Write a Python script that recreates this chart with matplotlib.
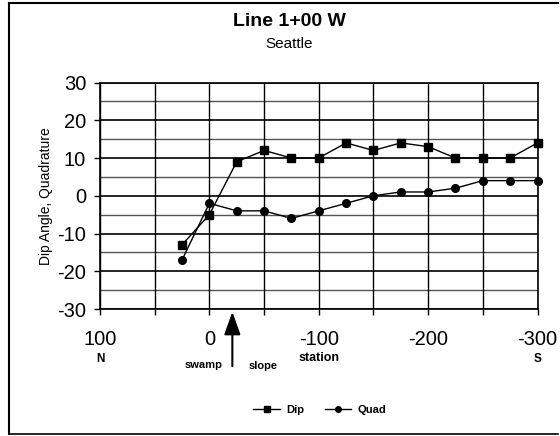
import matplotlib.pyplot as plt
from matplotlib.transforms import blended_transform_factory
from matplotlib.lines import Line2D

plt.rcParams['font.family'] = ['Liberation Sans', 'DejaVu Sans']

# station positions (N positive, S negative)
station = [25, 0, -25, -50, -75, -100, -125, -150, -175, -200, -225, -250, -275, -300]
dip = [-13, -5, 9, 12, 10, 10, 14, 12, 14, 13, 10, 10, 10, 14]
quad = [-17, -2, -4, -4, -6, -4, -2, 0, 1, 1, 2, 4, 4, 4]

xticks = [100, 0, -100, -200, -300]
yticks = [30, 20, 10, 0, -10, -20, -30]

W, H = 560, 436
fig = plt.figure(figsize=(5.6, 4.36), dpi=100)
ax = fig.add_axes([100 / W, 1 - 309 / H, 437.5 / W, 226.5 / H])

# grid
for y in range(-30, 31, 5):
    if y % 10 == 0:
        ax.axhline(y, color='black', lw=1.2, zorder=1)
    else:
        ax.axhline(y, color='#555555', lw=1.0, zorder=1)
for x in range(100, -301, -50):
    ax.axvline(x, color='black', lw=1.0, zorder=1)

ax.plot(station, dip, color='black', lw=1, marker='s', ms=6, zorder=3, clip_on=False, label='Dip')
ax.plot(station, quad, color='black', lw=1, marker='o', ms=5.5, zorder=3, clip_on=False, label='Quad')

ax.set_xlim(100, -300)
ax.set_ylim(-30, 30)
ax.set_xticks(range(100, -301, -50), minor=True)
ax.set_xticks(xticks)
ax.set_xticklabels([str(v) for v in xticks])
ax.set_yticks(yticks)
ax.set_yticklabels([str(v) for v in yticks])
ax.tick_params(axis='x', which='both', direction='out', length=4, width=1, labelsize=14.5, pad=11)
ax.tick_params(axis='y', direction='out', length=4, width=1, labelsize=14.5, pad=6)
for s in ax.spines.values():
    s.set_linewidth(1.2)

ax.set_ylabel('Dip Angle, Quadrature', fontsize=10, labelpad=3)

# labels under the axis
tr = blended_transform_factory(ax.transData, fig.transFigure)
ax.text(100, 1 - 359 / H, 'N', transform=tr, ha='center', va='center', fontsize=8.5, fontweight='bold')
ax.text(-300, 1 - 359 / H, 'S', transform=tr, ha='center', va='center', fontsize=8.5, fontweight='bold')
ax.text(-100, 1 - 358 / H, 'station', transform=tr, ha='center', va='center', fontsize=9, fontweight='bold')
ax.text(5, 1 - 365 / H, 'swamp', transform=tr, ha='center', va='center', fontsize=8, fontweight='bold')
ax.text(-49, 1 - 366 / H, 'slope', transform=tr, ha='center', va='center', fontsize=8, fontweight='bold')

ax.annotate('', xy=(-21, -30), xycoords='data',
            xytext=(-21, 1 - 369 / H), textcoords=tr,
            arrowprops=dict(arrowstyle='-|>,head_length=1.4,head_width=0.5', color='black', lw=1.5),
            annotation_clip=False)

# titles
fig.text(289 / W, 1 - 21 / H, 'Line 1+00 W', ha='center', va='center', fontsize=14, fontweight='bold')
fig.text(289 / W, 1 - 44 / H, 'Seattle', ha='center', va='center', fontsize=11)

handles = [Line2D([], [], color='black', lw=1, marker='s', ms=4),
           Line2D([], [], color='black', lw=1, marker='o', ms=4)]
leg = fig.legend(handles, ['Dip', 'Quad'], loc='center', bbox_to_anchor=(320 / W, 1 - 410 / H),
                 ncol=2, frameon=False, prop={'size': 8, 'weight': 'bold'},
                 handlelength=2.4, columnspacing=1.8, handletextpad=0.6)

# outer frame
fig.add_artist(Line2D([9 / W, 9 / W], [1 - 434 / H, 1 - 3 / H], transform=fig.transFigure, color='black', lw=1.5))
fig.add_artist(Line2D([9 / W, 558 / W], [1 - 3 / H, 1 - 3 / H], transform=fig.transFigure, color='black', lw=1.5))
fig.add_artist(Line2D([9 / W, 558 / W], [1 - 434 / H, 1 - 434 / H], transform=fig.transFigure, color='black', lw=1.2))

fig.savefig('out.png', dpi=100)
